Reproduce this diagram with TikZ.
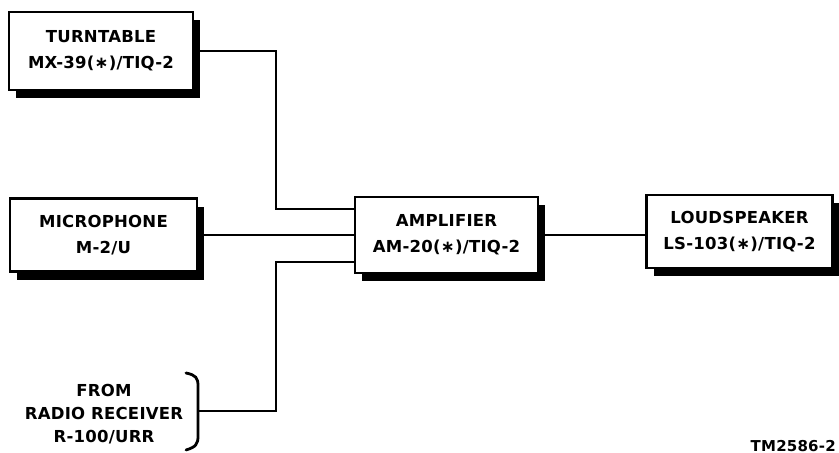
\documentclass[tikz,border=0pt]{standalone}
\usepackage{fontspec}
\setmainfont{DejaVu Sans}
\newfontfamily\lblfont[LetterSpace=1.5]{DejaVu Sans Bold}
\usetikzlibrary{shadows,calc}
\begin{document}
\begin{tikzpicture}[x=1pt,y=-1pt,
  unit/.style={draw,line width=2.8pt,fill=white,align=center,
    font=\lblfont\fontsize{16.5}{26}\selectfont,inner sep=0pt,
    drop shadow={shadow xshift=7pt,shadow yshift=-8pt,fill=black,opacity=1,rounded corners=3pt}},
  wire/.style={line width=2.5pt},
  lbl/.style={align=center,font=\lblfont\fontsize{16.5}{23}\selectfont,inner sep=0pt}]
\useasboundingbox (0,0) rectangle (839,453);
\node[unit,minimum width=184pt,minimum height=78pt] (tt) at (101,51) {TURNTABLE\\MX-39(∗)/TIQ-2};
\node[unit,minimum width=187pt,minimum height=73pt] (mic) at (103.5,235) {MICROPHONE\\M-2/U};
\node[unit,minimum width=183pt,minimum height=76pt] (amp) at (446.5,235) {AMPLIFIER\\AM-20(∗)/TIQ-2};
\node[unit,minimum width=186pt,minimum height=73pt] (ls) at (739.5,231.5) {LOUDSPEAKER\\LS-103(∗)/TIQ-2};
\node[lbl] (radio) at (104,414) {FROM\\RADIO RECEIVER\\R-100/URR};
\coordinate (br) at (198,411);
\coordinate (in1) at ($(amp.west)+(0,-26)$);
\coordinate (in3) at ($(amp.west)+(0,27)$);
\coordinate (j1) at (276,51);
\coordinate (j3) at (276,411);
\draw[line width=2.8pt,line cap=round] (186,373) .. controls (196,375) and (198,378) .. (198,386) -- (198,436) .. controls (198,444) and (196,447) .. (186,450);
\draw[wire] (tt.east) -- (j1) |- (in1);
\draw[wire] (mic.east) -- (amp.west);
\draw[wire] (br) -- (j3) |- (in3);
\draw[wire] (amp.east) -- (amp.east -| ls.west);
\node[font=\lblfont\fontsize{15}{18}\selectfont,anchor=base east,inner sep=0pt] (tm) at (836,451) {TM2586-2};
\end{tikzpicture}
\end{document}
